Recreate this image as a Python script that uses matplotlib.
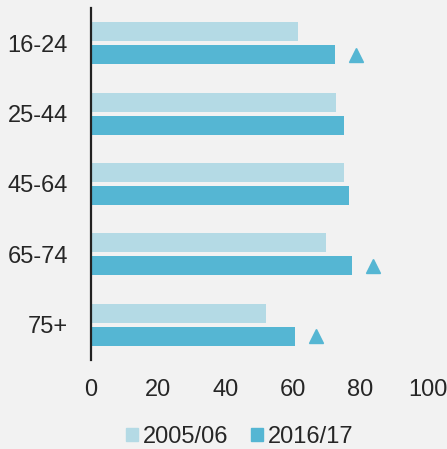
import matplotlib
matplotlib.use("Agg")
import matplotlib.pyplot as plt
import numpy as np
from matplotlib.patches import Patch

categories = ["16-24", "25-44", "45-64", "65-74", "75+"]
series_names = ["2005/06", "2016/17"]
values_2005 = [61.4, 72.6, 75.1, 69.7, 52.0]
values_2016 = [72.3, 75.2, 76.6, 77.4, 60.6]
significant = [True, False, False, True, True]
xticks = [0, 20, 40, 60, 80, 100]

c_light = "#b4dae5"
c_dark = "#55b6d3"
bg = "#f2f2f2"
txt = "#262626"

plt.rcParams["font.family"] = ["Liberation Sans", "DejaVu Sans"]

W, H = 447, 449
fig = plt.figure(figsize=(W / 100, H / 100), dpi=100, facecolor=bg)
ax = fig.add_axes([91 / W, 1 - 360 / H, (428 - 91) / W, (360 - 8) / H])
ax.set_facecolor(bg)

y = np.arange(len(categories))
h = 0.27
off = 0.163
ax.barh(y - off, values_2005, height=h, color=c_light, label=series_names[0])
ax.barh(y + off, values_2016, height=h, color=c_dark, label=series_names[1])

for yi, v, s in zip(y, values_2016, significant):
    if s:
        ax.plot(v + 6.3, yi + off, marker="^", color=c_dark, markersize=10,
                linestyle="none", clip_on=False)

ax.set_xlim(0, 100)
ax.set_ylim(len(categories) - 0.5, -0.5)
ax.set_yticks(y)
ax.set_yticklabels(categories)
ax.set_xticks(xticks)
ax.set_xticklabels([str(t) for t in xticks])
ax.tick_params(axis="both", length=0, labelsize=17, colors=txt)
ax.tick_params(axis="y", pad=16.5)
ax.tick_params(axis="x", pad=14)

for s in ["top", "right", "bottom"]:
    ax.spines[s].set_visible(False)
ax.spines["left"].set_color("#222222")
ax.spines["left"].set_linewidth(1.6)

handles = [Patch(color=c_light, label=series_names[0]),
           Patch(color=c_dark, label=series_names[1])]
fig.legend(handles=handles, loc="center", bbox_to_anchor=(240 / W, 1 - 437 / H),
           ncol=2, frameon=False, fontsize=17, handlelength=0.5, handleheight=0.5,
           handletextpad=0.22, columnspacing=0.95, labelcolor=txt,
           borderpad=0, borderaxespad=0)

fig.savefig("out.png", dpi=100, facecolor=bg)
